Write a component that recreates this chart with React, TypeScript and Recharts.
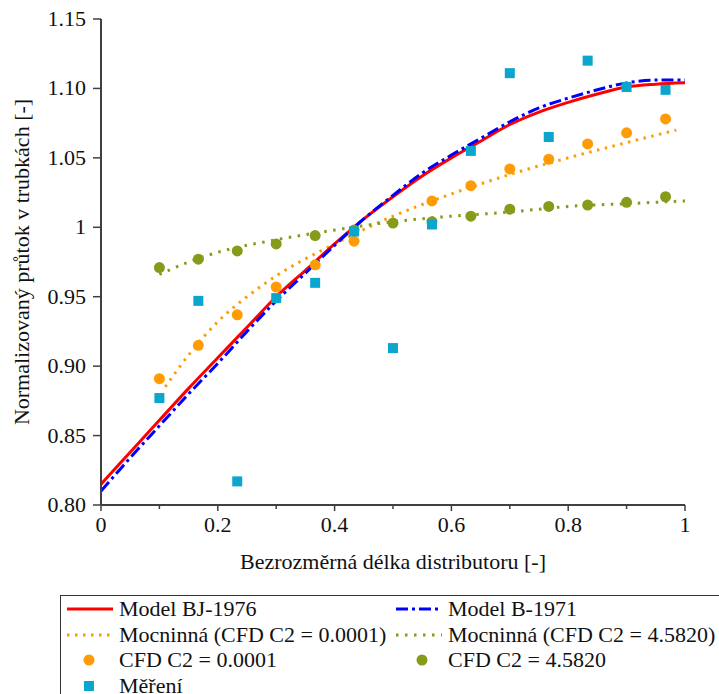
import React from 'react';
import { ComposedChart, Line, Scatter, XAxis, YAxis } from 'recharts';

// model curves
const modelX = [0, 0.05, 0.1, 0.15, 0.2, 0.25, 0.3, 0.35, 0.4, 0.45, 0.5, 0.55, 0.6, 0.65, 0.7, 0.75, 0.8, 0.85, 0.9, 0.95, 1];
const modelBJ1976 = [0.815, 0.838, 0.861, 0.884, 0.906, 0.928, 0.950, 0.969, 0.988, 1.006, 1.022, 1.037, 1.050, 1.062, 1.074, 1.083, 1.090, 1.096, 1.101, 1.103, 1.104];
const modelB1971 = [0.810, 0.834, 0.857, 0.880, 0.902, 0.925, 0.947, 0.967, 0.987, 1.006, 1.023, 1.039, 1.052, 1.064, 1.076, 1.086, 1.093, 1.099, 1.104, 1.106, 1.106];

// power trend lines
const trendLowX = [0.11, 0.15, 0.2, 0.25, 0.3, 0.4, 0.5, 0.6, 0.7, 0.8, 0.9, 0.985];
const trendLow = [0.885, 0.908, 0.932, 0.950, 0.965, 0.988, 1.008, 1.024, 1.038, 1.050, 1.061, 1.070];
const trendHighX = [0.1, 0.15, 0.2, 0.3, 0.4, 0.5, 0.6, 0.7, 0.8, 0.9, 1];
const trendHigh = [0.966, 0.975, 0.982, 0.991, 0.998, 1.004, 1.008, 1.011, 1.015, 1.017, 1.019];

// points
const pointX = [0.1, 0.1667, 0.2333, 0.3, 0.3667, 0.4333, 0.5, 0.5667, 0.6333, 0.7, 0.7667, 0.8333, 0.9, 0.9667];
const mereni = [0.877, 0.947, 0.817, 0.949, 0.960, 0.997, 0.913, 1.002, 1.055, 1.111, 1.065, 1.120, 1.101, 1.099];
const cfdLowX = [0.1, 0.1667, 0.2333, 0.3, 0.3667, 0.4333, 0.5667, 0.6333, 0.7, 0.7667, 0.8333, 0.9, 0.9667];
const cfdLow = [0.891, 0.915, 0.937, 0.957, 0.973, 0.990, 1.019, 1.030, 1.042, 1.049, 1.060, 1.068, 1.078];
const cfdHigh = [0.971, 0.977, 0.983, 0.988, 0.994, 0.998, 1.003, 1.004, 1.008, 1.013, 1.015, 1.016, 1.018, 1.022];

const xTicks = [0, 0.1, 0.2, 0.3, 0.4, 0.5, 0.6, 0.7, 0.8, 0.9, 1];
const yTicks = [0.8, 0.85, 0.9, 0.95, 1, 1.05, 1.1, 1.15];

const RED = '#ff0000';
const BLUE = '#0000ff';
const ORANGE = '#ff9c05';
const GREEN = '#889a1a';
const CYAN = '#0aa6ce';
const AXIS = '#404040';
const FONT = "'Liberation Serif', 'DejaVu Serif', serif";

const zip = (xs: number[], ys: number[]) => xs.map((x, i) => ({ x, y: ys[i] }));

const bjData = zip(modelX, modelBJ1976);
const bData = zip(modelX, modelB1971);
const lowTrendData = zip(trendLowX, trendLow);
const highTrendData = zip(trendHighX, trendHigh);
const mereniData = zip(pointX, mereni);
const cfdLowData = zip(cfdLowX, cfdLow);
const cfdHighData = zip(pointX, cfdHigh);

const XTick = (props: any) => {
  const { x, y, payload } = props;
  const v = payload.value;
  const major = Math.round(v * 10) % 2 === 0;
  const label = v === 0 ? '0' : v === 1 ? '1' : v.toFixed(1);
  return (
    <g>
      <line x1={x} x2={x} y1={y} y2={y + (major ? 6 : 4)} stroke={AXIS} strokeWidth={1.5} />
      {major && (
        <text x={x} y={y + 27} textAnchor="middle" fontSize={22} fontFamily={FONT} fill="#111">
          {label}
        </text>
      )}
    </g>
  );
};

const YTick = (props: any) => {
  const { x, y, payload } = props;
  const v = payload.value;
  return (
    <text x={x} y={y + 7} textAnchor="end" fontSize={22} fontFamily={FONT} fill="#111">
      {v === 1 ? '1' : v.toFixed(2)}
    </text>
  );
};

const circle = (color: string) => (p: any) => <circle cx={p.cx} cy={p.cy} r={5.5} fill={color} />;
const square = (p: any) => <rect x={p.cx - 5} y={p.cy - 5} width={10} height={10} fill={CYAN} />;

const LegendItem = ({ left, top, sym, text }: { left: number; top: number; sym: React.ReactNode; text: string }) => (
  <div style={{ position: 'absolute', left, top, height: 26, display: 'flex', alignItems: 'center' }}>
    <svg width={48} height={26} style={{ display: 'block' }}>{sym}</svg>
    <span style={{ marginLeft: 6, fontSize: 22, whiteSpace: 'nowrap', lineHeight: '26px' }}>{text}</span>
  </div>
);

export default function App() {
  return (
    <div
      style={{
        position: 'absolute',
        left: 0,
        top: 0,
        width: 719,
        height: 694,
        background: '#fff',
        overflow: 'hidden',
        fontFamily: FONT,
        color: '#111',
      }}
    >
      <ComposedChart width={719} height={694} margin={{ top: 19, right: 34, bottom: 159, left: 0 }}>
        <XAxis
          type="number"
          dataKey="x"
          domain={[0, 1]}
          ticks={xTicks}
          height={30}
          tickSize={0}
          tickMargin={0}
          tickLine={false}
          axisLine={{ stroke: AXIS, strokeWidth: 2 }}
          tick={<XTick />}
          interval={0}
        />
        <YAxis
          type="number"
          domain={[0.8, 1.15]}
          ticks={yTicks}
          width={101}
          tickSize={8}
          tickMargin={7}
          interval={0}
          tick={<YTick />}
          tickLine={{ stroke: AXIS, strokeWidth: 1.5 }}
          axisLine={{ stroke: AXIS, strokeWidth: 2 }}
        />
        <Line data={lowTrendData} dataKey="y" type="monotone" stroke={ORANGE} strokeWidth={3}
          strokeDasharray="2.5 5.5" dot={false} isAnimationActive={false} />
        <Line data={highTrendData} dataKey="y" type="monotone" stroke={GREEN} strokeWidth={3}
          strokeDasharray="2.5 6.5" dot={false} isAnimationActive={false} />
        <Line data={bjData} dataKey="y" type="monotone" stroke={RED} strokeWidth={3}
          dot={false} isAnimationActive={false} />
        <Line data={bData} dataKey="y" type="monotone" stroke={BLUE} strokeWidth={3}
          strokeDasharray="12 4 3 4" dot={false} isAnimationActive={false} />
        <Scatter data={cfdLowData} dataKey="y" shape={circle(ORANGE)} isAnimationActive={false} />
        <Scatter data={cfdHighData} dataKey="y" shape={circle(GREEN)} isAnimationActive={false} />
        <Scatter data={mereniData} dataKey="y" shape={square} isAnimationActive={false} />
      </ComposedChart>

      <div style={{ position: 'absolute', left: 0, width: 786, top: 547, textAlign: 'center', fontSize: 22, lineHeight: '30px' }}>
        Bezrozměrná délka distributoru [-]
      </div>
      <div
        style={{
          position: 'absolute',
          left: 22,
          top: 262,
          transform: 'translate(-50%, -50%) rotate(-90deg)',
          whiteSpace: 'nowrap',
          fontSize: 22,
        }}
      >
        Normalizovaný průtok v trubkách [-]
      </div>

      <div style={{ position: 'absolute', left: 60, top: 595, width: 720, height: 130, border: '1.5px solid #333' }}>
        <LegendItem left={4} top={0} text="Model BJ-1976"
          sym={<line x1={2} x2={48} y1={13} y2={13} stroke={RED} strokeWidth={3} />} />
        <LegendItem left={333} top={0} text="Model B-1971"
          sym={<line x1={2} x2={48} y1={13} y2={13} stroke={BLUE} strokeWidth={3} strokeDasharray="12 4 3 4" />} />
        <LegendItem left={4} top={25.5} text="Mocninná (CFD C2 = 0.0001)"
          sym={<line x1={2} x2={48} y1={13} y2={13} stroke={ORANGE} strokeWidth={3} strokeDasharray="2.5 5.5" />} />
        <LegendItem left={333} top={25.5} text="Mocninná (CFD C2 = 4.5820)"
          sym={<line x1={2} x2={48} y1={13} y2={13} stroke={GREEN} strokeWidth={3} strokeDasharray="2.5 6.5" />} />
        <LegendItem left={4} top={51} text="CFD C2 = 0.0001"
          sym={<circle cx={24} cy={13} r={5.5} fill={ORANGE} />} />
        <LegendItem left={333} top={51} text="CFD C2 = 4.5820"
          sym={<circle cx={28} cy={13} r={5.5} fill={GREEN} />} />
        <LegendItem left={4} top={76.5} text="Měření"
          sym={<rect x={19} y={8} width={10} height={10} fill={CYAN} />} />
      </div>
    </div>
  );
}
